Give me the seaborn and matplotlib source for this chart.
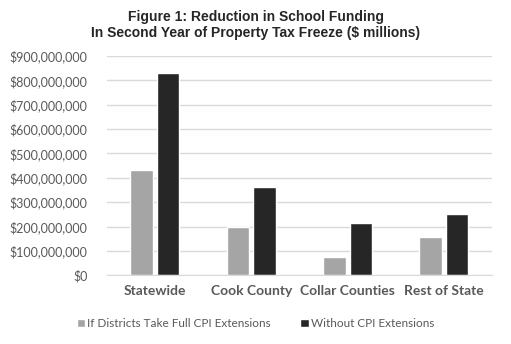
import matplotlib
matplotlib.use("Agg")
import matplotlib.pyplot as plt
import matplotlib.ticker as mticker
import seaborn as sns
import pandas as pd

categories = ["Statewide", "Cook County", "Collar Counties", "Rest of State"]
series_names = ["If Districts Take Full CPI Extensions", "Without CPI Extensions"]
full_cpi = [432e6, 200e6, 75e6, 157e6]
without_cpi = [830e6, 362e6, 215e6, 252e6]
title = "Figure 1: Reduction in School Funding\nIn Second Year of Property Tax Freeze ($ millions)"

df = pd.DataFrame({
    "Region": categories * 2,
    "Series": [series_names[0]] * 4 + [series_names[1]] * 4,
    "Value": full_cpi + without_cpi,
})

sns.set_style("white")
fig = plt.figure(figsize=(5.11, 3.44), dpi=100)
ax = fig.add_axes([0.209, 0.2, 0.754, 0.637])

sns.barplot(data=df, x="Region", y="Value", hue="Series", order=categories,
            hue_order=series_names, palette=["#A5A5A5", "#262626"],
            width=0.55, gap=0.15, ax=ax, legend=True, errorbar=None)

ax.set_ylim(0, 900e6)
ax.set_yticks([i * 100e6 for i in range(10)])
ax.yaxis.set_major_formatter(mticker.FuncFormatter(lambda v, p: "${:,.0f}".format(v)))
ax.grid(axis="y", color="#D9D9D9", linewidth=1)
ax.set_axisbelow(True)
for s in ["top", "right", "left"]:
    ax.spines[s].set_visible(False)
ax.spines["bottom"].set_color("#D9D9D9")
ax.tick_params(axis="both", length=0)
ax.tick_params(axis="y", pad=14)
ax.tick_params(axis="x", pad=7)
ax.set_xlabel("")
ax.set_ylabel("")
for lab in ax.get_yticklabels():
    lab.set_fontfamily("Lato")
    lab.set_fontsize(9)
    lab.set_color("#595959")
for lab in ax.get_xticklabels():
    lab.set_fontfamily("Lato")
    lab.set_fontsize(10)
    lab.set_fontweight("bold")
    lab.set_color("#595959")

leg = ax.legend(loc="center", ncol=2, frameon=False, prop={"family": "Lato", "size": 8.5},
                handlelength=0.7, handleheight=0.7, handletextpad=0.2, columnspacing=2.5)
leg.set_bbox_to_anchor((0.5, 0.06), transform=fig.transFigure)
for t in leg.get_texts():
    t.set_color("#595959")

fig.text(0.5, 0.97, title, ha="center", va="top", fontsize=10,
         fontweight="bold", family="Liberation Sans", linespacing=1.15)

fig.savefig("out.png", dpi=100)
